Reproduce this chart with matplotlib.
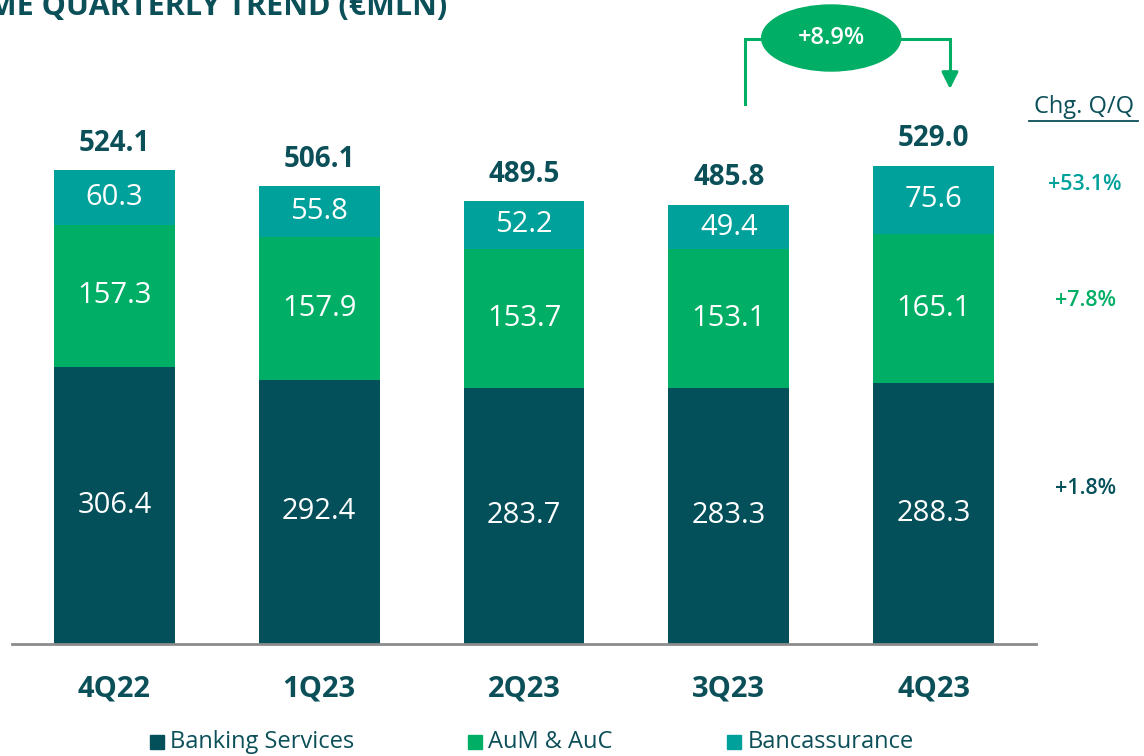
import matplotlib
matplotlib.use("Agg")
import matplotlib.pyplot as plt
from matplotlib.patches import Ellipse, Rectangle
import numpy as np

categories = ['4Q22', '1Q23', '2Q23', '3Q23', '4Q23']
banking = [306.4, 292.4, 283.7, 283.3, 288.3]
aum = [157.3, 157.9, 153.7, 153.1, 165.1]
banca = [60.3, 55.8, 52.2, 49.4, 75.6]
totals = [524.1, 506.1, 489.5, 485.8, 529.0]
series_names = ['Banking Services', 'AuM & AuC', 'Bancassurance']
qq_changes = ['+1.8%', '+7.8%', '+53.1%']
total_change = '+8.9%'
title = 'INCOME QUARTERLY TREND (€MLN)'

DARK = '#03505A'
GREEN = '#00AE65'
TEAL = '#00A19B'
TXT = '#0B4F59'
colors = [DARK, GREEN, TEAL]

plt.rcParams['font.family'] = ['Open Sans', 'DejaVu Sans']

W, H = 1144, 756
fig = plt.figure(figsize=(W / 100, H / 100), dpi=100)
base_px = 644
ax = fig.add_axes([12 / W, (H - base_px) / H, (1036 - 12) / W, base_px / H])
ax.set_xlim(-0.5, 4.5)
ax.set_ylim(0, base_px / 0.904)

x = np.arange(len(categories))
bw = 0.59
b1 = ax.bar(x, banking, bw, color=DARK, label=series_names[0])
b2 = ax.bar(x, aum, bw, bottom=banking, color=GREEN, label=series_names[1])
bottom3 = np.array(banking) + np.array(aum)
b3 = ax.bar(x, banca, bw, bottom=bottom3, color=TEAL, label=series_names[2])

for bars in (b1, b2, b3):
    for r in bars:
        v = r.get_height()
        ax.text(r.get_x() + r.get_width() / 2, r.get_y() + v / 2,
                f'{v:.1f}', ha='center', va='center', color='white',
                fontsize=21)

for xi, t, top in zip(x, totals, bottom3 + np.array(banca)):
    ax.annotate(f'{t:.1f}', (xi, top), xytext=(0, 9), textcoords='offset points',
                ha='center', va='bottom', fontsize=20, fontweight='bold', color=TXT)

for s in ['top', 'right', 'left']:
    ax.spines[s].set_visible(False)
ax.spines['bottom'].set_color('#8C8C8C')
ax.spines['bottom'].set_linewidth(2)
ax.set_yticks([])
ax.set_xticks(x)
ax.set_xticklabels(categories, fontsize=21, fontweight='bold', color=TXT)
ax.tick_params(axis='x', length=0, pad=22)

# Q/Q change column
ax.text(4.735, 594, 'Chg. Q/Q', ha='center', va='center', fontsize=17,
        color=TXT, clip_on=False)
ax.plot([4.465, 5.0], [578, 578], color=TXT, lw=1.3, clip_on=False)
chg_y = [172, 380, 508]
for lab, yy, c in zip(qq_changes, chg_y, colors):
    ax.text(4.74, yy, lab, ha='center', va='center', fontsize=15.5,
            fontweight='semibold', color=c, clip_on=False)

# Bracket with ellipse
xl, xr = x[3] + 0.08, x[4] + 0.08
y_line = (base_px - 39) / 0.904
y_lbot = (base_px - 104) / 0.904
y_arrow = (base_px - 89) / 0.904
ax.plot([xl, xl, xr, xr], [y_lbot, y_line, y_line, y_arrow + 12], color=GREEN,
        lw=2.2, clip_on=False, solid_joinstyle='miter')
ax.annotate('', xy=(xr, y_arrow), xytext=(xr, y_arrow + 20),
            arrowprops=dict(arrowstyle='-|>', color=GREEN, lw=2.2,
                            mutation_scale=25, shrinkA=0, shrinkB=0),
            annotation_clip=False)
ex = (x[3] + x[4]) / 2
ey = (base_px - 38) / 0.904
ax.add_patch(Ellipse((ex, ey), 139 / 204.75, 66 / 0.904, color=GREEN, clip_on=False, zorder=5))
ax.text(ex, ey, total_change, ha='center', va='center', color='white',
        fontsize=17, fontweight='semibold', zorder=6)

# Title (clipped at top, as in the reference)
fig.text(447 / W, (H - 15) / H, title, ha='right', va='baseline', fontsize=22,
         fontweight='bold', color=TXT)

# Legend
leg_items = [(150, 170), (468, 488), (727, 748)]
for (sq, tx), name, c in zip(leg_items, series_names, colors):
    fig.patches.append(Rectangle((sq / W, (H - 749) / H), 14 / W, 14 / H,
                                 transform=fig.transFigure, color=c, figure=fig))
    fig.text(tx / W, (H - 742) / H, name, ha='left', va='center', fontsize=17,
             color=TXT)

fig.savefig('out.png', dpi=100)
